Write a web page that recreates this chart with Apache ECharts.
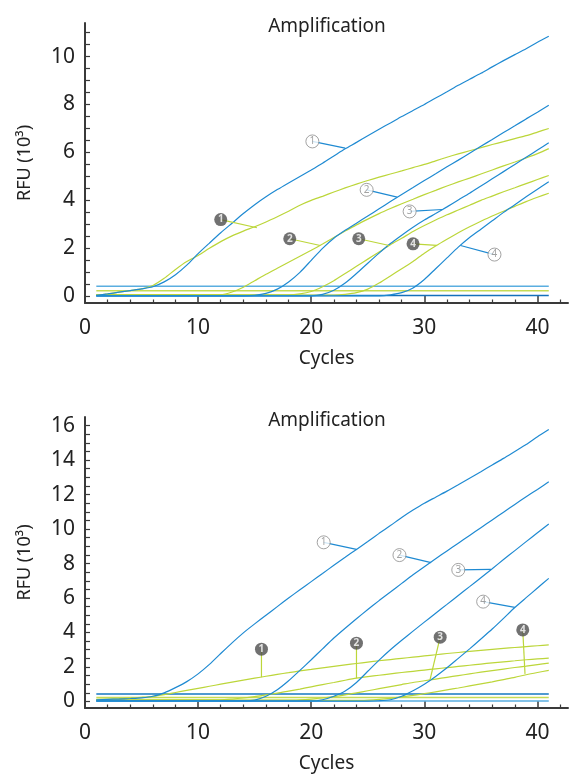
<!DOCTYPE html>
<html>
<head>
<meta charset="utf-8">
<script src="https://cdn.jsdelivr.net/npm/echarts@6/dist/echarts.min.js"></script>
<style>
  html, body { margin: 0; padding: 0; background: #fff; }
  #chart { width: 570px; height: 774px; }
</style>
</head>
<body>
<div id="chart"></div>
<script>
// cycles on the x axis
const cycles = [1, 2, 3, 4, 5, 6, 7, 8, 9, 10, 11, 12, 13, 14, 15, 16, 17, 18, 19, 20,
  21, 22, 23, 24, 25, 26, 27, 28, 29, 30, 31, 32, 33, 34, 35, 36, 37, 38, 39, 40, 41];

// upper panel, RFU in 10^3
const topBlue1 = [0.04, 0.1, 0.17, 0.24, 0.31, 0.4, 0.6, 0.9, 1.3, 1.78, 2.22, 2.65, 3.05, 3.45, 3.82, 4.15, 4.45, 4.73, 5.0, 5.27,
  5.55, 5.85, 6.15, 6.42, 6.7, 6.97, 7.23, 7.5, 7.75, 8.0, 8.27, 8.53, 8.8, 9.05, 9.3, 9.57, 9.83, 10.08, 10.33, 10.6, 10.85];
const topBlue2 = [0.02, 0.02, 0.02, 0.02, 0.02, 0.02, 0.02, 0.02, 0.02, 0.02, 0.02, 0.02, 0.02, 0.02, 0.04, 0.12, 0.3, 0.6, 1.0, 1.5,
  2.0, 2.42, 2.75, 3.05, 3.35, 3.65, 3.95, 4.25, 4.54, 4.83, 5.11, 5.4, 5.68, 5.97, 6.26, 6.54, 6.83, 7.11, 7.4, 7.68, 7.97];
const topBlue3 = [0.02, 0.02, 0.02, 0.02, 0.02, 0.02, 0.02, 0.02, 0.02, 0.02, 0.02, 0.02, 0.02, 0.02, 0.02, 0.02, 0.02, 0.02, 0.02, 0.02,
  0.08, 0.25, 0.55, 0.95, 1.38, 1.8, 2.2, 2.55, 2.88, 3.18, 3.45, 3.73, 4.02, 4.3, 4.6, 4.9, 5.2, 5.5, 5.8, 6.1, 6.4];
const topBlue4 = [0.02, 0.02, 0.02, 0.02, 0.02, 0.02, 0.02, 0.02, 0.02, 0.02, 0.02, 0.02, 0.02, 0.02, 0.02, 0.02, 0.02, 0.02, 0.02, 0.02,
  0.02, 0.02, 0.02, 0.02, 0.02, 0.02, 0.06, 0.15, 0.35, 0.7, 1.15, 1.6, 2.05, 2.45, 2.8, 3.15, 3.5, 3.82, 4.15, 4.47, 4.78];
const topGreen1 = [0.04, 0.1, 0.17, 0.24, 0.31, 0.45, 0.75, 1.12, 1.45, 1.7, 2.0, 2.28, 2.52, 2.72, 2.9, 3.1, 3.32, 3.55, 3.8, 4.0,
  4.17, 4.35, 4.52, 4.68, 4.83, 4.97, 5.1, 5.23, 5.37, 5.5, 5.65, 5.8, 5.94, 6.07, 6.2, 6.33, 6.45, 6.58, 6.7, 6.85, 7.0];
const topGreen2 = [0.07, 0.07, 0.07, 0.07, 0.07, 0.07, 0.07, 0.07, 0.07, 0.07, 0.07, 0.07, 0.18, 0.38, 0.65, 0.92, 1.17, 1.42, 1.67, 1.92,
  2.18, 2.45, 2.72, 2.98, 3.22, 3.45, 3.66, 3.86, 4.05, 4.24, 4.42, 4.6, 4.77, 4.93, 5.1, 5.27, 5.44, 5.6, 5.77, 5.95, 6.16];
const topGreen3 = [0.06, 0.06, 0.06, 0.06, 0.06, 0.06, 0.06, 0.06, 0.06, 0.06, 0.06, 0.06, 0.06, 0.06, 0.06, 0.06, 0.06, 0.06, 0.1, 0.2,
  0.4, 0.65, 0.95, 1.25, 1.55, 1.85, 2.15, 2.42, 2.7, 2.95, 3.18, 3.4, 3.6, 3.8, 4.0, 4.18, 4.36, 4.53, 4.7, 4.87, 5.04];
const topGreen4 = [0.05, 0.05, 0.05, 0.05, 0.05, 0.05, 0.05, 0.05, 0.05, 0.05, 0.05, 0.05, 0.05, 0.05, 0.05, 0.05, 0.05, 0.05, 0.05, 0.05,
  0.05, 0.05, 0.08, 0.15, 0.3, 0.55, 0.85, 1.15, 1.45, 1.8, 2.1, 2.38, 2.65, 2.9, 3.13, 3.35, 3.55, 3.75, 3.95, 4.13, 4.3];
const topThreshold = [0.42, 0.23, 0.03];

// lower panel
const botBlue1 = [0.1, 0.12, 0.14, 0.17, 0.21, 0.3, 0.5, 0.8, 1.15, 1.6, 2.15, 2.78, 3.4, 3.98, 4.5, 5.0, 5.5, 6.0, 6.48, 6.95,
  7.42, 7.9, 8.36, 8.82, 9.28, 9.75, 10.2, 10.67, 11.1, 11.5, 11.85, 12.2, 12.57, 12.95, 13.33, 13.72, 14.1, 14.5, 14.9, 15.35, 15.77];
const botBlue2 = [0.04, 0.04, 0.04, 0.04, 0.04, 0.04, 0.04, 0.04, 0.04, 0.04, 0.04, 0.04, 0.04, 0.04, 0.08, 0.3, 0.68, 1.2, 1.8, 2.42,
  3.05, 3.68, 4.25, 4.8, 5.33, 5.85, 6.35, 6.85, 7.35, 7.82, 8.28, 8.73, 9.18, 9.63, 10.08, 10.53, 10.98, 11.43, 11.87, 12.3, 12.74];
const botBlue3 = [0.03, 0.03, 0.03, 0.03, 0.03, 0.03, 0.03, 0.03, 0.03, 0.03, 0.03, 0.03, 0.03, 0.03, 0.03, 0.03, 0.03, 0.03, 0.03, 0.03,
  0.1, 0.3, 0.6, 1.1, 1.75, 2.4, 3.0, 3.55, 4.08, 4.6, 5.12, 5.63, 6.15, 6.66, 7.18, 7.7, 8.23, 8.75, 9.27, 9.78, 10.29];
const botBlue4 = [0.02, 0.02, 0.02, 0.02, 0.02, 0.02, 0.02, 0.02, 0.02, 0.02, 0.02, 0.02, 0.02, 0.02, 0.02, 0.02, 0.02, 0.02, 0.02, 0.02,
  0.02, 0.02, 0.02, 0.02, 0.02, 0.04, 0.1, 0.3, 0.62, 1.0, 1.45, 1.95, 2.5, 3.05, 3.62, 4.2, 4.82, 5.45, 6.02, 6.58, 7.14];
const botGreen1 = [0.12, 0.14, 0.16, 0.19, 0.24, 0.3, 0.4, 0.52, 0.64, 0.76, 0.88, 1.0, 1.12, 1.24, 1.35, 1.46, 1.57, 1.67, 1.77, 1.86,
  1.95, 2.04, 2.12, 2.2, 2.28, 2.36, 2.43, 2.5, 2.57, 2.64, 2.71, 2.78, 2.84, 2.9, 2.96, 3.02, 3.08, 3.13, 3.18, 3.23, 3.28];
const botGreen2 = [0.1, 0.1, 0.1, 0.1, 0.1, 0.1, 0.1, 0.1, 0.1, 0.1, 0.1, 0.1, 0.14, 0.2, 0.28, 0.38, 0.48, 0.6, 0.72, 0.85,
  0.98, 1.1, 1.23, 1.35, 1.44, 1.52, 1.6, 1.68, 1.75, 1.82, 1.89, 1.96, 2.03, 2.1, 2.17, 2.24, 2.3, 2.36, 2.42, 2.47, 2.51];
const botGreen3 = [0.08, 0.08, 0.08, 0.08, 0.08, 0.08, 0.08, 0.08, 0.08, 0.08, 0.08, 0.08, 0.08, 0.08, 0.08, 0.08, 0.08, 0.08, 0.1, 0.14,
  0.2, 0.28, 0.38, 0.5, 0.62, 0.74, 0.86, 0.98, 1.1, 1.2, 1.3, 1.4, 1.5, 1.6, 1.7, 1.79, 1.88, 1.97, 2.05, 2.14, 2.22];
const botGreen4 = [0.06, 0.06, 0.06, 0.06, 0.06, 0.06, 0.06, 0.06, 0.06, 0.06, 0.06, 0.06, 0.06, 0.06, 0.06, 0.06, 0.06, 0.06, 0.06, 0.06,
  0.06, 0.06, 0.06, 0.06, 0.08, 0.12, 0.18, 0.26, 0.35, 0.45, 0.56, 0.67, 0.78, 0.9, 1.02, 1.14, 1.27, 1.4, 1.55, 1.68, 1.8];
const botThreshold = [0.43, 0.23, 0.03];

// numbered callouts: where the tag sits, and the point on the curve it marks
const topBlueTagAt = [[20.1, 6.46], [24.9, 4.44], [28.7, 3.54], [36.2, 1.74]];
const topBlueTagTo = [[23.0, 6.18], [27.6, 4.14], [31.6, 3.62], [33.2, 2.12]];
const topGreenTagAt = [[12.0, 3.2], [18.1, 2.4], [24.2, 2.4], [29.0, 2.19]];
const topGreenTagTo = [[15.2, 2.86], [20.8, 2.12], [26.9, 2.12], [31.1, 2.12]];
const botBlueTagAt = [[21.1, 9.23], [27.8, 8.49], [33.0, 7.63], [35.2, 5.79]];
const botBlueTagTo = [[24.0, 8.82], [30.6, 8.05], [35.9, 7.66], [38.0, 5.46]];
const botGreenTagAt = [[15.6, 3.03], [24.0, 3.38], [31.4, 3.73], [38.7, 4.15]];
const botGreenTagTo = [[15.6, 1.41], [24.0, 1.35], [30.5, 1.25], [38.9, 1.6]];

// axis ticks and labels
const xLabels = [0, 10, 20, 30, 40];
const xMinorTicks = [2, 4, 6, 8, 12, 14, 16, 18, 22, 24, 26, 28, 32, 34, 36, 38, 42];
const topYLabels = [0, 2, 4, 6, 8, 10];
const topYTicks = [0, 0.5, 1, 1.5, 2, 2.5, 3, 3.5, 4, 4.5, 5, 5.5, 6, 6.5, 7, 7.5, 8, 8.5, 9, 9.5, 10, 10.5, 11];
const botYLabels = [0, 2, 4, 6, 8, 10, 12, 14, 16];
const botYTicks = [0, 0.5, 1, 1.5, 2, 2.5, 3, 3.5, 4, 4.5, 5, 5.5, 6, 6.5, 7, 7.5, 8, 8.5, 9, 9.5, 10, 10.5,
  11, 11.5, 12, 12.5, 13, 13.5, 14, 14.5, 15, 15.5, 16];

const BLUE = '#1f8ad2';
const GREEN = '#bcd63a';
const AXIS = '#3a3a3a';
const TEXT = '#222';
const FONT = 'Noto Sans';
const thresholdColors = [['#5aaee0', '#c6db55', '#1470bb'], ['#1479c2', '#c6db55', '#5aaee0']];

const chart = echarts.init(document.getElementById('chart'));

function mainX(g) {
  return {
    gridIndex: g, type: 'value', min: 0, max: 42.7,
    axisLine: { show: true, onZero: false, lineStyle: { color: AXIS, width: 2 } },
    axisTick: { show: true, inside: true, length: 7, customValues: xLabels, lineStyle: { color: AXIS, width: 1.5 } },
    axisLabel: { customValues: xLabels, fontSize: 21, color: TEXT, margin: 15, fontFamily: FONT },
    splitLine: { show: false },
    name: 'Cycles', nameLocation: 'middle', nameGap: 46,
    nameTextStyle: { fontSize: 19, color: TEXT, fontFamily: FONT },
  };
}

function minorX(g) {
  return {
    gridIndex: g, type: 'value', min: 0, max: 42.7, position: 'bottom',
    axisLine: { show: false, onZero: false },
    axisTick: { show: true, inside: true, length: 3.5, customValues: xMinorTicks, lineStyle: { color: AXIS, width: 1.2 } },
    axisLabel: { show: false },
    splitLine: { show: false },
  };
}

function yAx(g, min, max, labels, ticks) {
  return {
    gridIndex: g, type: 'value', min, max,
    axisLine: { show: true, onZero: false, lineStyle: { color: AXIS, width: 2 } },
    axisTick: { show: true, inside: true, length: 5, customValues: ticks, lineStyle: { color: AXIS, width: 1.2 } },
    axisLabel: { customValues: labels, fontSize: 21, color: TEXT, margin: 10, fontFamily: FONT },
    splitLine: { show: false },
    name: 'RFU (10³)', nameLocation: 'middle', nameGap: 51, nameRotate: 90,
    nameTextStyle: { fontSize: 18, color: TEXT, fontFamily: FONT },
  };
}

function curve(vals, color, xi, yi) {
  return {
    type: 'line', xAxisIndex: xi, yAxisIndex: yi,
    data: cycles.map((c, i) => [c, vals[i]]),
    smooth: 0.25, symbol: 'none', silent: true, z: 3,
    lineStyle: { color, width: 1.2 },
  };
}

function threshold(v, color, xi, yi) {
  return {
    type: 'line', xAxisIndex: xi, yAxisIndex: yi,
    data: [[cycles[0], v], [cycles[cycles.length - 1], v]],
    symbol: 'none', silent: true, z: 2,
    lineStyle: { color, width: 1.6 },
  };
}

function pointers(at, to, color, xi, yi) {
  return at.map((p, i) => ({
    type: 'line', xAxisIndex: xi, yAxisIndex: yi,
    data: [p, to[i]], symbol: 'none', silent: true, z: 4,
    lineStyle: { color, width: 1.2 },
  }));
}

function tags(at, filled, xi, yi) {
  return {
    type: 'scatter', xAxisIndex: xi, yAxisIndex: yi,
    symbol: 'circle', symbolSize: 13, silent: true, z: 6,
    data: at.map((p, i) => ({ value: p, name: String(i + 1) })),
    itemStyle: filled
      ? { color: '#4d4d4d' }
      : { color: '#fff', borderColor: '#8c8c8c', borderWidth: 1 },
    label: {
      show: true, position: 'inside', formatter: (d) => d.name,
      fontSize: 10, fontFamily: FONT,
      fontWeight: filled ? 'bold' : 'normal',
      color: filled ? '#fff' : '#8c8c8c',
    },
  };
}

function panel(p, blues, greens, thr, blueAt, blueTo, greenAt, greenTo) {
  const xi = p * 2;
  const yi = p;
  const out = [];
  thr.forEach((v, i) => out.push(threshold(v, thresholdColors[p][i], xi, yi)));
  greens.forEach((g) => out.push(curve(g, GREEN, xi, yi)));
  blues.forEach((b) => out.push(curve(b, BLUE, xi, yi)));
  out.push(...pointers(blueAt, blueTo, BLUE, xi, yi));
  out.push(...pointers(greenAt, greenTo, GREEN, xi, yi));
  out.push(tags(blueAt, false, xi, yi));
  out.push(tags(greenAt, true, xi, yi));
  return out;
}

const option = {
  animation: false,
  backgroundColor: '#fff',
  textStyle: { fontFamily: FONT },
  title: [
    { text: 'Amplification', left: 322, top: 12, textAlign: 'center',
      textStyle: { fontSize: 19, fontWeight: 'normal', color: TEXT, fontFamily: FONT } },
    { text: 'Amplification', left: 322, top: 406, textAlign: 'center',
      textStyle: { fontSize: 19, fontWeight: 'normal', color: TEXT, fontFamily: FONT } },
  ],
  grid: [
    { left: 85, top: 23, width: 483, height: 280 },
    { left: 85, top: 417, width: 483, height: 291 },
  ],
  xAxis: [mainX(0), minorX(0), mainX(1), minorX(1)],
  yAxis: [
    yAx(0, -0.28, 11.4, topYLabels, topYTicks),
    yAx(1, -0.38, 16.5, botYLabels, botYTicks),
  ],
  series: [
    ...panel(0, [topBlue1, topBlue2, topBlue3, topBlue4], [topGreen1, topGreen2, topGreen3, topGreen4],
      topThreshold, topBlueTagAt, topBlueTagTo, topGreenTagAt, topGreenTagTo),
    ...panel(1, [botBlue1, botBlue2, botBlue3, botBlue4], [botGreen1, botGreen2, botGreen3, botGreen4],
      botThreshold, botBlueTagAt, botBlueTagTo, botGreenTagAt, botGreenTagTo),
  ],
};

chart.setOption(option);
</script>
</body>
</html>
